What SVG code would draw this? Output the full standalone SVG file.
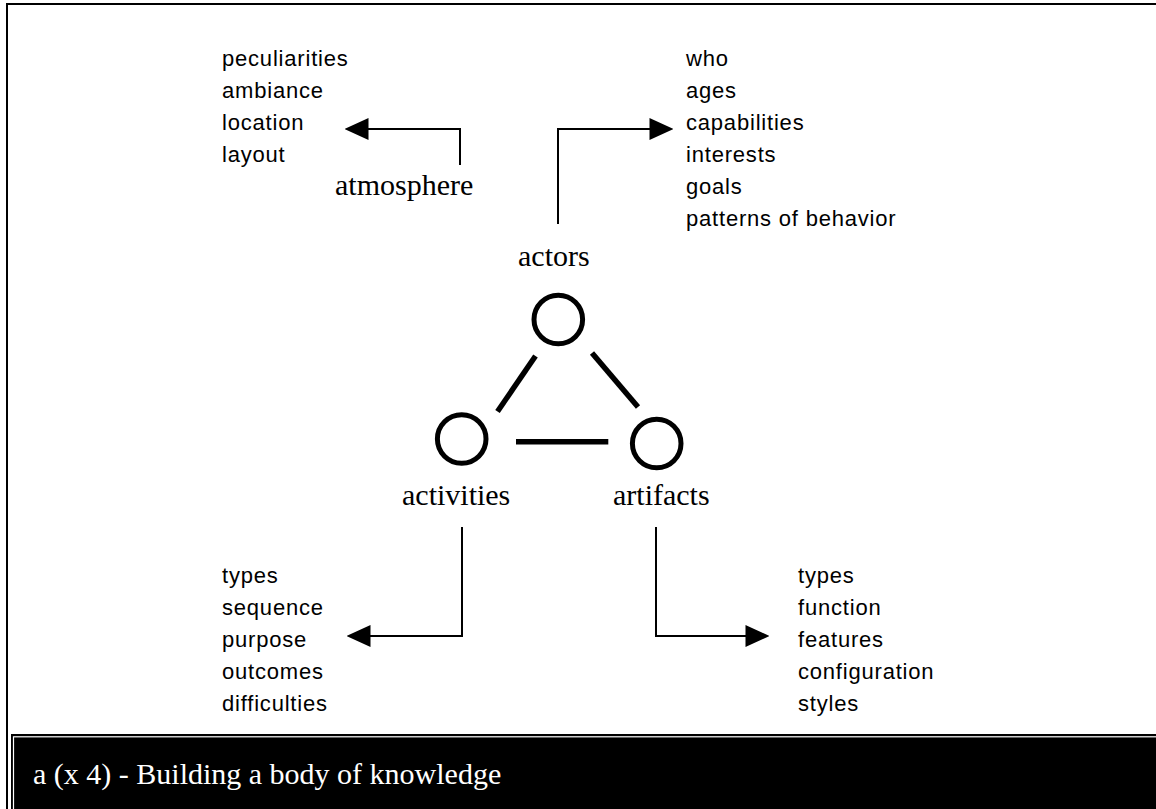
<svg xmlns="http://www.w3.org/2000/svg" width="1156" height="809" viewBox="0 0 1156 809">
<style>
.sans{font-family:"Liberation Sans",Arial,sans-serif;font-size:22px;letter-spacing:0.8px;fill:#000}
.serif{font-family:"Liberation Serif","Times New Roman",serif;font-size:30px;fill:#000}
.cap{font-family:"Liberation Serif","Times New Roman",serif;font-size:30px;fill:#fff}
.ring{fill:none;stroke:#000;stroke-width:5}
.edge{stroke:#000;stroke-width:5.5;fill:none}
.conn{stroke:#000;stroke-width:2;fill:none;marker-end:url(#ah)}
</style>
<defs>
<marker id="ah" markerUnits="userSpaceOnUse" markerWidth="24" markerHeight="22" viewBox="0 0 23 21" refX="0.5" refY="10.5" orient="auto">
<path d="M0,0 L23,10.5 L0,21 z" fill="#000"/>
</marker>
</defs>
<rect width="1156" height="809" fill="#fff"/>
<path d="M7,809 V4 H1156" fill="none" stroke="#000" stroke-width="2"/>
<g id="caption-bar">
<rect x="11" y="734" width="1160" height="90" fill="#000"/>
<rect x="13.5" y="736.8" width="1160" height="90" fill="none" stroke="#fff" stroke-width="1.2"/>
<text class="cap" x="33" y="784">a (x 4) - Building a body of knowledge</text>
</g>
<g id="connectors">
<path class="conn" d="M460,165 V129 H368"/>
<path class="conn" d="M558,224 V129 H650"/>
<path class="conn" d="M462,527 V636 H370"/>
<path class="conn" d="M656,527 V636 H746"/>
<line class="edge" x1="535.5" y1="356" x2="497.5" y2="411.5"/>
<line class="edge" x1="592" y1="353" x2="638" y2="407"/>
<line class="edge" x1="516" y1="441.7" x2="608.3" y2="441.7"/>
</g>
<g id="atmosphere">
<text class="serif" x="335" y="195">atmosphere</text>
<text class="sans" x="222" y="66">peculiarities</text>
<text class="sans" x="222" y="98">ambiance</text>
<text class="sans" x="222" y="130">location</text>
<text class="sans" x="222" y="162">layout</text>
</g>
<g id="actors">
<text class="serif" x="518" y="266">actors</text>
<circle class="ring" cx="558.3" cy="319.5" r="24.3"/>
<text class="sans" x="686" y="65.5">who</text>
<text class="sans" x="686" y="97.5">ages</text>
<text class="sans" x="686" y="129.5">capabilities</text>
<text class="sans" x="686" y="161.5">interests</text>
<text class="sans" x="686" y="193.5">goals</text>
<text class="sans" x="686" y="225.5">patterns of behavior</text>
</g>
<g id="activities">
<circle class="ring" cx="461.7" cy="439" r="24.3"/>
<text class="serif" x="402" y="505">activities</text>
<text class="sans" x="222" y="583">types</text>
<text class="sans" x="222" y="615">sequence</text>
<text class="sans" x="222" y="647">purpose</text>
<text class="sans" x="222" y="679">outcomes</text>
<text class="sans" x="222" y="711">difficulties</text>
</g>
<g id="artifacts">
<circle class="ring" cx="656.7" cy="443.5" r="24.3"/>
<text class="serif" x="613" y="505">artifacts</text>
<text class="sans" x="798" y="583">types</text>
<text class="sans" x="798" y="615">function</text>
<text class="sans" x="798" y="647">features</text>
<text class="sans" x="798" y="679">configuration</text>
<text class="sans" x="798" y="711">styles</text>
</g>
</svg>
